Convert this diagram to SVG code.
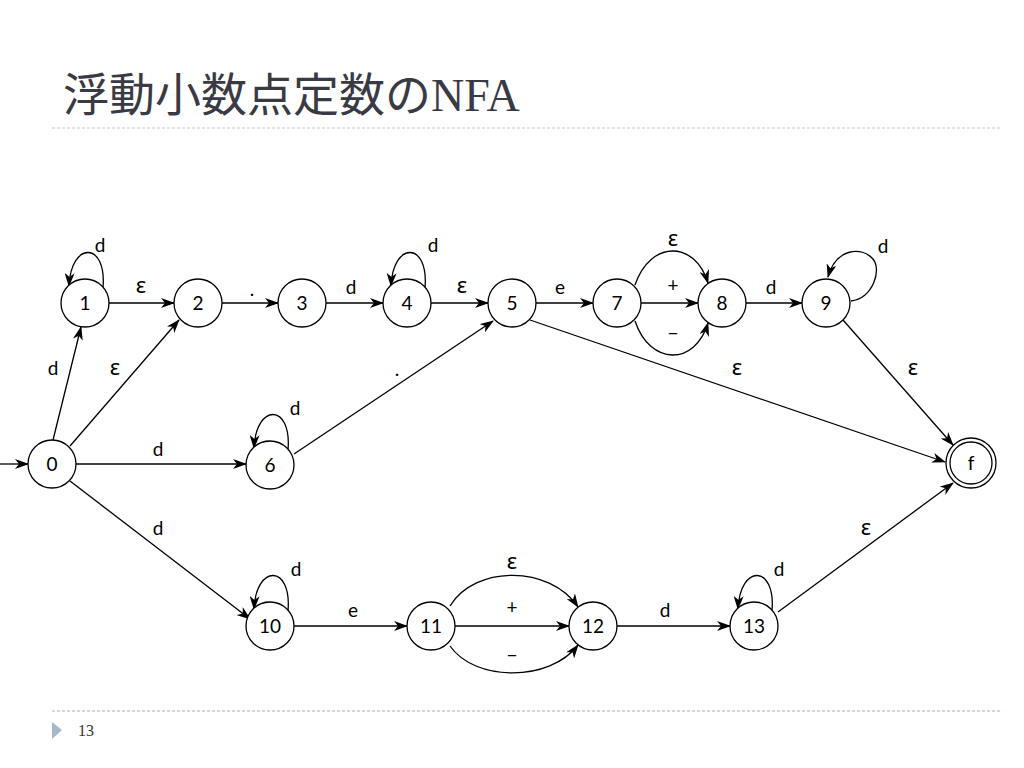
<svg xmlns="http://www.w3.org/2000/svg" width="1024" height="768" viewBox="0 0 1024 768">
<style>
.node circle{fill:#fff;stroke:#000;stroke-width:1.3}
.node text{font-family:Lato,"Open Sans","Liberation Sans",sans-serif;font-size:19px;text-anchor:middle;fill:#000}
.edges path,.edges line{fill:none;stroke:#000;stroke-width:1.3}
.lbl{font-family:Lato,"Open Sans","Liberation Sans",sans-serif;font-size:19px;text-anchor:middle;fill:#000}
.eps{font-family:"Noto Sans","DejaVu Sans",sans-serif;font-size:22px;text-anchor:middle;fill:#000}
</style>
<defs>
<marker id="ah" viewBox="0 0 14 10" refX="13" refY="5" markerWidth="14" markerHeight="10" markerUnits="userSpaceOnUse" orient="auto">
<path d="M0,0 L14,5 L0,10 L4,5 z" fill="#000"/>
</marker>
</defs>
<rect width="1024" height="768" fill="#fff"/>
<text x="63" y="111" font-family="'Liberation Serif','Noto Sans CJK JP',serif" font-size="46" fill="#3a3a44">浮動小数点定数のNFA</text>
<line x1="52" y1="128" x2="1000" y2="128" stroke="#bfc4c8" stroke-width="1" stroke-dasharray="3,2"/>
<line x1="52" y1="711" x2="1000" y2="711" stroke="#9fb4c6" stroke-width="1" stroke-dasharray="3,2"/>
<polygon points="52,722 62,730 52,739" fill="#a6b9cc"/>
<text x="78" y="736" font-family="'Liberation Sans Narrow','Liberation Serif',serif" font-size="16" fill="#333">13</text>

<g id="connectors" class="edges">
<line x1="0" y1="464" x2="28" y2="464" marker-end="url(#ah)"/>
<line x1="53" y1="440" x2="81" y2="327" marker-end="url(#ah)"/>
<line x1="70" y1="446" x2="179" y2="320" marker-end="url(#ah)"/>
<line x1="76" y1="464" x2="246" y2="464" marker-end="url(#ah)"/>
<line x1="70" y1="481" x2="250" y2="619" marker-end="url(#ah)"/>
<line x1="109" y1="303" x2="174" y2="303" marker-end="url(#ah)"/>
<line x1="222" y1="303" x2="278" y2="303" marker-end="url(#ah)"/>
<line x1="326" y1="303" x2="383" y2="303" marker-end="url(#ah)"/>
<line x1="431" y1="303" x2="488" y2="303" marker-end="url(#ah)"/>
<line x1="536" y1="303" x2="593" y2="303" marker-end="url(#ah)"/>
<line x1="641" y1="303" x2="698" y2="303" marker-end="url(#ah)"/>
<line x1="746" y1="303" x2="802" y2="303" marker-end="url(#ah)"/>
<line x1="294" y1="454" x2="493" y2="321" marker-end="url(#ah)"/>
<line x1="530" y1="320" x2="945" y2="462" marker-end="url(#ah)"/>
<line x1="843" y1="320" x2="953" y2="445" marker-end="url(#ah)"/>
<line x1="778" y1="612" x2="953" y2="483" marker-end="url(#ah)"/>
<line x1="294" y1="626" x2="407" y2="626" marker-end="url(#ah)"/>
<line x1="455" y1="626" x2="569" y2="626" marker-end="url(#ah)"/>
<line x1="617" y1="626" x2="730" y2="626" marker-end="url(#ah)"/>
<path d="M635,285 C650,240 695,240 708,283" marker-end="url(#ah)"/>
<path d="M635,321 C650,366 695,366 708,323" marker-end="url(#ah)"/>
<path d="M450,606 C475,565 550,565 578,607" marker-end="url(#ah)"/>
<path d="M450,646 C475,682 550,682 578,645" marker-end="url(#ah)"/>
<path d="M103,288 C107,241 71,241 69,286" marker-end="url(#ah)"/>
<path d="M425,288 C429,241 393,241 391,286" marker-end="url(#ah)"/>
<path d="M288,450 C292,403 256,403 254,448" marker-end="url(#ah)"/>
<path d="M288,611 C292,564 256,564 254,609" marker-end="url(#ah)"/>
<path d="M772,611 C776,564 740,564 738,609" marker-end="url(#ah)"/>
<path d="M851,301 C873,298 882,270 873,259 C862,246 836,248 828,277" marker-end="url(#ah)"/>
</g>

<g id="labels">
<text class="lbl" x="100" y="252">d</text>
<text class="eps" x="141" y="293">ε</text>
<text class="lbl" x="252" y="296">.</text>
<text class="lbl" x="351" y="294">d</text>
<text class="lbl" x="433" y="252">d</text>
<text class="eps" x="462" y="293">ε</text>
<text class="lbl" x="560" y="294">e</text>
<text class="eps" x="673" y="246">ε</text>
<text class="lbl" x="673" y="292">+</text>
<text class="lbl" x="673" y="340">−</text>
<text class="lbl" x="771" y="294">d</text>
<text class="lbl" x="883" y="253">d</text>
<text class="lbl" x="53" y="375">d</text>
<text class="eps" x="115" y="375">ε</text>
<text class="lbl" x="397" y="376">.</text>
<text class="eps" x="737" y="375">ε</text>
<text class="eps" x="913" y="375">ε</text>
<text class="lbl" x="295" y="415">d</text>
<text class="lbl" x="158" y="456">d</text>
<text class="lbl" x="158" y="535">d</text>
<text class="eps" x="866" y="535">ε</text>
<text class="eps" x="512" y="569">ε</text>
<text class="lbl" x="512" y="614">+</text>
<text class="lbl" x="512" y="662">−</text>
<text class="lbl" x="296" y="576">d</text>
<text class="lbl" x="353" y="617">e</text>
<text class="lbl" x="665" y="617">d</text>
<text class="lbl" x="779" y="576">d</text>
</g>

<g id="n0" class="node"><circle cx="52" cy="464" r="24"/><text x="52" y="471">0</text></g>
<g id="n1" class="node"><circle cx="85" cy="303" r="24"/><text x="85" y="310">1</text></g>
<g id="n2" class="node"><circle cx="198" cy="303" r="24"/><text x="198" y="310">2</text></g>
<g id="n3" class="node"><circle cx="302" cy="303" r="24"/><text x="302" y="310">3</text></g>
<g id="n4" class="node"><circle cx="407" cy="303" r="24"/><text x="407" y="310">4</text></g>
<g id="n5" class="node"><circle cx="512" cy="303" r="24"/><text x="512" y="310">5</text></g>
<g id="n6" class="node"><circle cx="270" cy="465" r="24"/><text x="270" y="472">6</text></g>
<g id="n7" class="node"><circle cx="617" cy="303" r="24"/><text x="617" y="310">7</text></g>
<g id="n8" class="node"><circle cx="722" cy="303" r="24"/><text x="722" y="310">8</text></g>
<g id="n9" class="node"><circle cx="826" cy="303" r="24"/><text x="826" y="310">9</text></g>
<g id="nf" class="node"><circle cx="971" cy="463" r="25"/><circle cx="971" cy="463" r="21"/><text x="971" y="470">f</text></g>
<g id="n10" class="node"><circle cx="270" cy="626" r="24"/><text x="270" y="633">10</text></g>
<g id="n11" class="node"><circle cx="431" cy="626" r="24"/><text x="431" y="633">11</text></g>
<g id="n12" class="node"><circle cx="593" cy="626" r="24"/><text x="593" y="633">12</text></g>
<g id="n13" class="node"><circle cx="754" cy="626" r="24"/><text x="754" y="633">13</text></g>
</svg>
